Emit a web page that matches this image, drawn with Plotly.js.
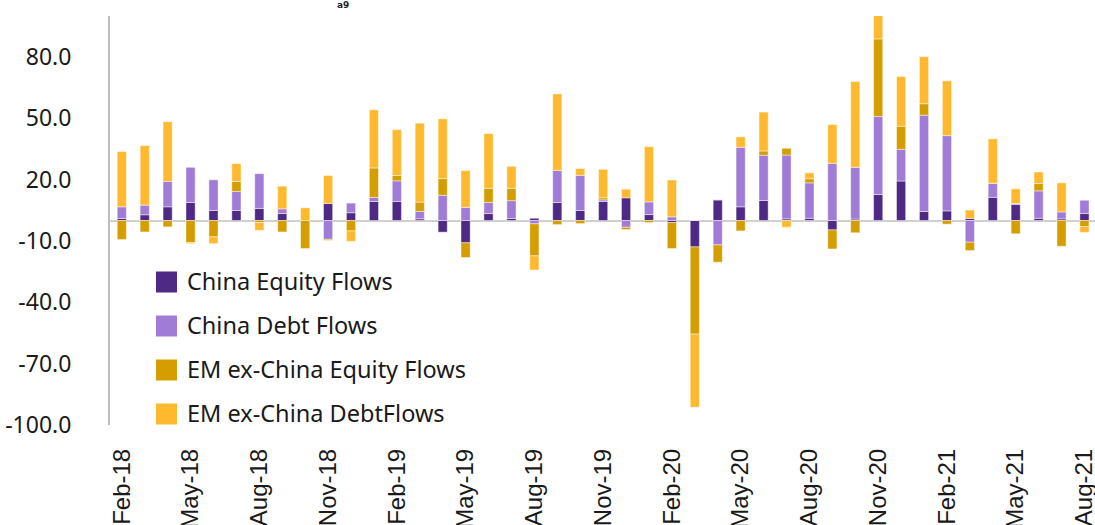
<!DOCTYPE html>
<html>
<head>
<meta charset="utf-8">
<script src="https://cdn.plot.ly/plotly-3.0.1.min.js"></script>
<style>html,body{margin:0;padding:0;background:#fff;}#chart{width:1095px;height:525px;}</style>
</head>
<body>
<div id="chart"></div>
<script>
const months = ["Feb-18","Mar-18","Apr-18","May-18","Jun-18","Jul-18","Aug-18","Sep-18","Oct-18","Nov-18","Dec-18",
  "Jan-19","Feb-19","Mar-19","Apr-19","May-19","Jun-19","Jul-19","Aug-19","Sep-19","Oct-19","Nov-19","Dec-19",
  "Jan-20","Feb-20","Mar-20","Apr-20","May-20","Jun-20","Jul-20","Aug-20","Sep-20","Oct-20","Nov-20","Dec-20",
  "Jan-21","Feb-21","Mar-21","Apr-21","May-21","Jun-21","Jul-21","Aug-21"];
const tickLabels = ["Feb-18","May-18","Aug-18","Nov-18","Feb-19","May-19","Aug-19","Nov-19","Feb-20","May-20","Aug-20","Nov-20","Feb-21","May-21","Aug-21"];
const yTickVals = [-100,-70,-40,-10,20,50,80];
const yTickText = ["-100.0","-70.0","-40.0","-10.0","20.0","50.0","80.0"];

const chinaEquity = [1.0,2.8,6.7,8.8,4.9,4.9,5.9,3.4,0,8.3,3.8,
  9.3,9.3,0.8,-5.7,-10.9,3.4,1.0,1.1,8.8,4.9,9.3,11.1,
  2.9,-1.0,-12.9,10.1,6.7,9.8,0.8,1.1,-4.6,0.7,12.7,19.3,
  4.4,4.7,1.0,11.3,7.8,1.1,0.8,3.4];
const chinaDebt = [5.7,4.7,12.4,17.2,15.0,9.3,17.0,2.3,0,-9.2,4.7,
  2.0,10.1,3.6,12.3,6.4,5.4,8.7,-1.6,15.7,17.2,0.8,-3.3,
  6.2,1.8,0,-11.9,29.1,22.1,31.2,17.3,27.9,25.3,38.2,15.5,
  47.1,36.8,-10.6,6.9,0.5,13.4,3.4,6.5];
const emEquity = [-9.3,-5.6,-3.1,-10.8,-8.0,4.9,-1.0,-5.6,-13.7,-0.5,-5.1,
  14.4,2.6,4.6,8.2,-7.2,6.9,6.0,-15.7,-2.0,-1.5,1.0,-1.1,
  -1.0,-12.7,-42.6,-8.5,-5.1,2.1,3.3,2.0,-9.3,-6.0,37.9,11.3,
  5.6,-1.8,-4.1,0,-6.5,3.6,-12.6,-2.9];
const emDebt = [27.0,29.1,29.2,-0.5,-3.3,8.7,-3.8,11.1,6.2,13.7,-5.1,
  28.4,22.4,38.6,29.2,18.0,26.8,10.8,-6.9,37.4,3.3,13.9,4.2,
  27.0,18.0,-35.8,0,5.1,19.0,-3.3,2.9,19.0,42.0,12.0,24.3,
  23.0,26.8,4.1,21.7,7.2,5.6,14.2,-2.9];

const seriesNames = ["China Equity Flows","China Debt Flows","EM ex-China Equity Flows","EM ex-China DebtFlows"];
const seriesColors = ["#4E2A84","#A07CD6","#D49E00","#FFB92F"];
const seriesData = [chinaEquity, chinaDebt, emEquity, emDebt];

const traces = seriesData.map((vals, i) => ({
  type: 'bar',
  name: seriesNames[i],
  x: months,
  y: vals,
  marker: {color: seriesColors[i], line: {color: 'rgba(255,255,255,0.55)', width: 0.8}},
  hoverinfo: 'x+y+name'
}));

// plot area in pixels
const L = 110, R = 1095, T = 16, B = 425;
const px = v => (v - L) / (R - L);
const py = v => (B - v) / (B - T);

const shapes = [];
const annotations = [];
const legendCenters = [282, 326, 370, 414];
seriesNames.forEach((n, i) => {
  const c = legendCenters[i];
  shapes.push({type: 'rect', xref: 'paper', yref: 'paper',
    x0: px(156), x1: px(177), y0: py(c + 10.5), y1: py(c - 10.5),
    fillcolor: seriesColors[i], line: {width: 0}});
  annotations.push({xref: 'paper', yref: 'paper', x: px(185), y: py(c - 1.5),
    xanchor: 'left', yanchor: 'middle', showarrow: false, text: n,
    font: {family: 'Noto Sans, sans-serif', size: 23.5, color: '#1a1a1a'}});
});
annotations.push({xref: 'paper', yref: 'paper', x: px(343), y: py(5),
  xanchor: 'center', yanchor: 'middle', showarrow: false, text: 'a9',
  font: {family: 'DejaVu Sans, sans-serif', size: 9, color: '#222', weight: 'bold'}});

const layout = {
  width: 1095, height: 525,
  margin: {l: L, r: 1095 - R, t: T, b: 525 - B, pad: 0},
  paper_bgcolor: '#fff', plot_bgcolor: '#fff',
  barmode: 'relative', bargap: 0.6,
  showlegend: false,
  xaxis: {
    type: 'category', range: [-0.515, 42.46], automargin: false,
    tickmode: 'array', tickvals: tickLabels, ticktext: tickLabels,
    tickangle: -90, ticks: '', showgrid: false, showline: false, zeroline: false,
    ticklabelstandoff: 18,
    tickfont: {family: 'Liberation Sans, Arial, sans-serif', size: 24, color: '#1a1a1a'}
  },
  yaxis: {
    range: [-100, 100], automargin: false,
    tickmode: 'array', tickvals: yTickVals, ticktext: yTickText,
    showgrid: false, showline: true, linecolor: '#BFBFBF', linewidth: 2,
    zeroline: true, zerolinecolor: '#D0D0D0', zerolinewidth: 2,
    ticks: '', ticklabelstandoff: 32,
    tickfont: {family: 'Noto Sans, sans-serif', size: 23, color: '#1a1a1a'}
  },
  shapes: shapes,
  annotations: annotations
};

Plotly.newPlot('chart', traces, layout, {displayModeBar: false, staticPlot: true});
</script>
</body>
</html>
